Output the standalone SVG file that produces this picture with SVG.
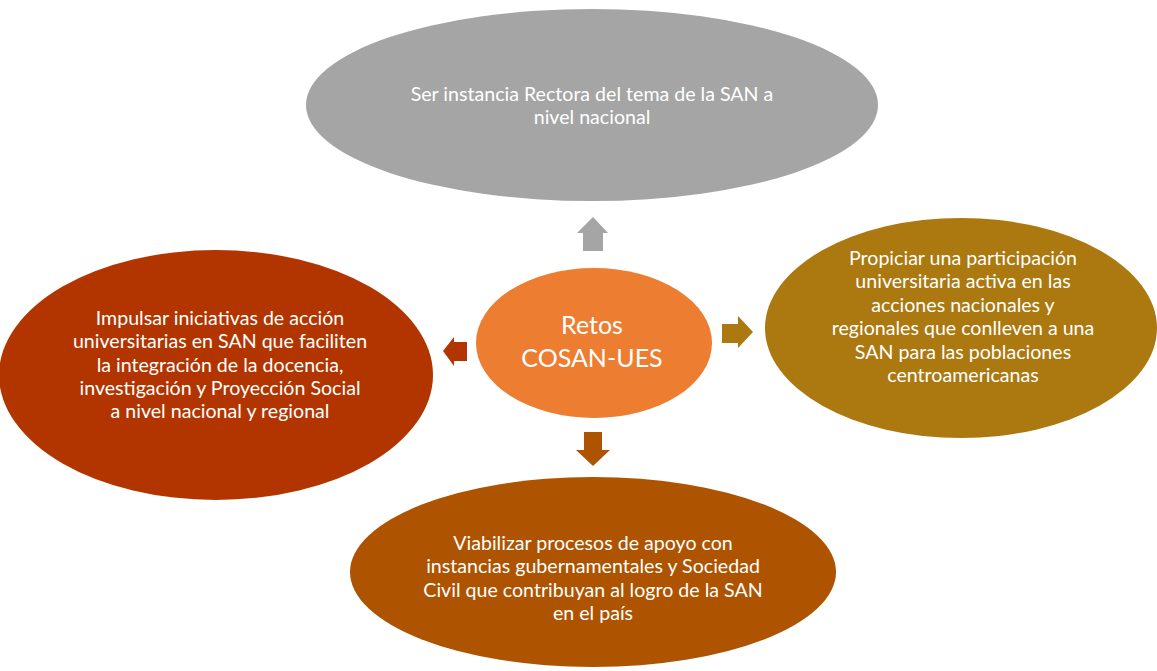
<svg xmlns="http://www.w3.org/2000/svg" width="1157" height="671" viewBox="0 0 1157 671">
<style>
.t{font-family:"Lato","Open Sans","Liberation Sans",sans-serif;font-size:19.6px;fill:#ffffff;text-anchor:middle}
.c{font-family:"Lato","Open Sans","Liberation Sans",sans-serif;font-size:25px;fill:#ffffff;text-anchor:middle}
</style>
<rect width="1157" height="671" fill="#ffffff"/>
<g id="connectors">
<polygon points="593,217 608,233 603,233 603,251 583,251 583,233 577,233" fill="#A5A5A5"/>
<polygon points="443,351 454,337 454,342 467,342 467,361 454,361 454,366" fill="#B23500"/>
<polygon points="753,332 738,316 738,324 722,324 722,343 738,343 738,348" fill="#AC7810"/>
<polygon points="593,466 610,450 602,450 602,432 584,432 584,450 576,450" fill="#AE5300"/>
</g>
<g id="node-top">
<ellipse cx="592" cy="105" rx="286" ry="96" fill="#A5A5A5"/>
<text class="t" x="592" y="101">Ser instancia Rectora del tema de la SAN a</text>
<text class="t" x="592" y="124">nivel nacional</text>
</g>
<g id="node-left">
<ellipse cx="216" cy="375" rx="217" ry="125" fill="#B23500"/>
<text class="t" x="220" y="325">Impulsar iniciativas de acción</text>
<text class="t" x="220" y="348">universitarias en SAN que faciliten</text>
<text class="t" x="220" y="372">la integración de la docencia,</text>
<text class="t" x="220" y="395">investigación y Proyección Social</text>
<text class="t" x="220" y="418">a nivel nacional y regional</text>
</g>
<g id="node-right">
<ellipse cx="961" cy="328" rx="196" ry="110" fill="#AC7810"/>
<text class="t" x="963" y="265">Propiciar una participación</text>
<text class="t" x="963" y="288">universitaria activa en las</text>
<text class="t" x="963" y="312">acciones nacionales y</text>
<text class="t" x="963" y="335">regionales que conlleven a una</text>
<text class="t" x="963" y="359">SAN para las poblaciones</text>
<text class="t" x="963" y="382">centroamericanas</text>
</g>
<g id="node-bottom">
<ellipse cx="593" cy="572" rx="243" ry="95" fill="#AE5300"/>
<text class="t" x="593" y="550">Viabilizar procesos de apoyo con</text>
<text class="t" x="593" y="573">instancias gubernamentales y Sociedad</text>
<text class="t" x="593" y="597">Civil que contribuyan al logro de la SAN</text>
<text class="t" x="593" y="620">en el país</text>
</g>
<g id="node-center">
<ellipse cx="594" cy="343" rx="118" ry="75" fill="#ED7D31"/>
<text class="c" x="592" y="334">Retos</text>
<text class="c" x="592" y="367">COSAN-UES</text>
</g>
</svg>
